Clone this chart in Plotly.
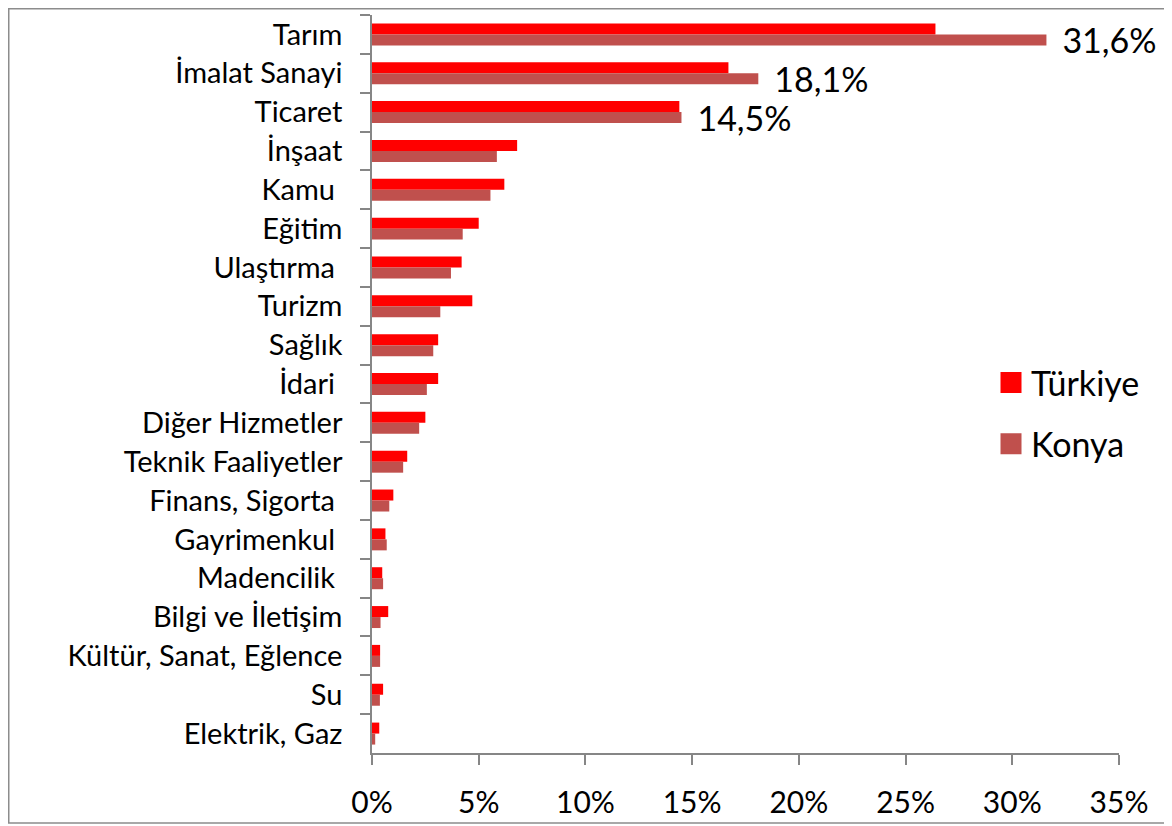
import plotly.graph_objects as go

categories = ["Tarım", "İmalat Sanayi", "Ticaret", "İnşaat", "Kamu\u00a0", "Eğitim",
              "Ulaştırma\u00a0", "Turizm", "Sağlık", "İdari\u00a0", "Diğer Hizmetler",
              "Teknik Faaliyetler", "Finans, Sigorta\u00a0", "Gayrimenkul\u00a0",
              "Madencilik\u00a0", "Bilgi ve İletişim", "Kültür, Sanat, Eğlence", "Su",
              "Elektrik, Gaz"]
turkiye = [26.4, 16.7, 14.4, 6.8, 6.2, 5.0, 4.2, 4.7, 3.1, 3.1, 2.5,
           1.65, 1.0, 0.63, 0.48, 0.76, 0.38, 0.52, 0.34]
konya = [31.6, 18.1, 14.5, 5.85, 5.55, 4.25, 3.7, 3.2, 2.87, 2.57, 2.21,
         1.46, 0.81, 0.69, 0.52, 0.40, 0.38, 0.37, 0.15]
labelled = 3  # only the three largest Konya values carry data labels

x_ticks = [0, 5, 10, 15, 20, 25, 30, 35]

RED = "#FF0000"
KONYA = "#C0504D"
FONT = "Lato"

konya_text = ["\u00a0\u2009" + f"{v:.1f}".replace(".", ",") + "%" if i < labelled else ""
              for i, v in enumerate(konya)]

fig = go.Figure()
fig.add_trace(go.Bar(y=categories, x=turkiye, orientation="h", name="Türkiye",
                     marker=dict(color=RED, line=dict(width=0)), showlegend=False))
fig.add_trace(go.Bar(y=categories, x=konya, orientation="h", name="Konya",
                     marker=dict(color=KONYA, line=dict(width=0)), showlegend=False,
                     text=konya_text, textposition="outside", constraintext="none",
                     cliponaxis=False, textfont=dict(family=FONT, size=34, color="black")))
# legend entries
fig.add_trace(go.Scatter(x=[None], y=[None], mode="markers", name="Türkiye",
                         legendgroup="a",
                         marker=dict(symbol="square", size=16, color=RED,
                                     line=dict(color=RED, width=5))))
fig.add_trace(go.Scatter(x=[None], y=[None], mode="markers", name="Konya",
                         legendgroup="b",
                         marker=dict(symbol="square", size=16, color=KONYA,
                                     line=dict(color=KONYA, width=5))))

# page offset: the browser body adds an 8px margin around the figure
OFF = 8
W, H = 1172 - OFF, 826 - OFF
ml, mr, mt, mb = 372 - OFF, 53, 15 - OFF, 73
pw, ph = W - ml - mr, H - mt - mb
PX0, PY0 = 372, 753  # page position of plot-area bottom-left


def px(X):
    return (X - PX0) / pw


def py(Y):
    return (PY0 - Y) / ph


fig.update_layout(
    template="none",
    width=W, height=H,
    margin=dict(l=ml, r=mr, t=mt, b=mb, pad=0),
    paper_bgcolor="white", plot_bgcolor="white",
    barmode="group", bargap=0.434, bargroupgap=0,
    font=dict(family=FONT, color="black"),
    showlegend=True,
    legend=dict(x=px(991), y=py(354), xanchor="left", yanchor="top",
                font=dict(family=FONT, size=34, color="black"),
                bgcolor="rgba(0,0,0,0)", traceorder="grouped", tracegroupgap=14,
                itemsizing="trace"),
    xaxis=dict(range=[0, 35], tickvals=x_ticks, ticktext=[f"{t}%" for t in x_ticks],
               showgrid=False, zeroline=False, showline=True, linecolor="#868686",
               linewidth=1.5, ticks="outside", ticklen=10, tickwidth=1.5,
               tickcolor="#868686", tickfont=dict(family=FONT, size=30, color="black"),
               ticklabelstandoff=12, automargin=False, fixedrange=True),
    yaxis=dict(autorange="reversed", type="category", showgrid=False, zeroline=False,
               showline=True, linecolor="#868686", linewidth=1.5, ticks="outside",
               ticklen=10, tickwidth=1.5, tickcolor="#868686", tickson="boundaries",
               tickfont=dict(family=FONT, size=29, color="black"),
               ticklabelstandoff=22, automargin=False, fixedrange=True),
    shapes=[dict(type="rect", xref="paper", yref="paper",
                 x0=px(8.75), x1=px(1167),
                 y0=py(823), y1=py(8.75),
                 line=dict(color="#8C8C8C", width=1.5), fillcolor="rgba(0,0,0,0)",
                 layer="below")],
)

fig.write_html("out.html")
